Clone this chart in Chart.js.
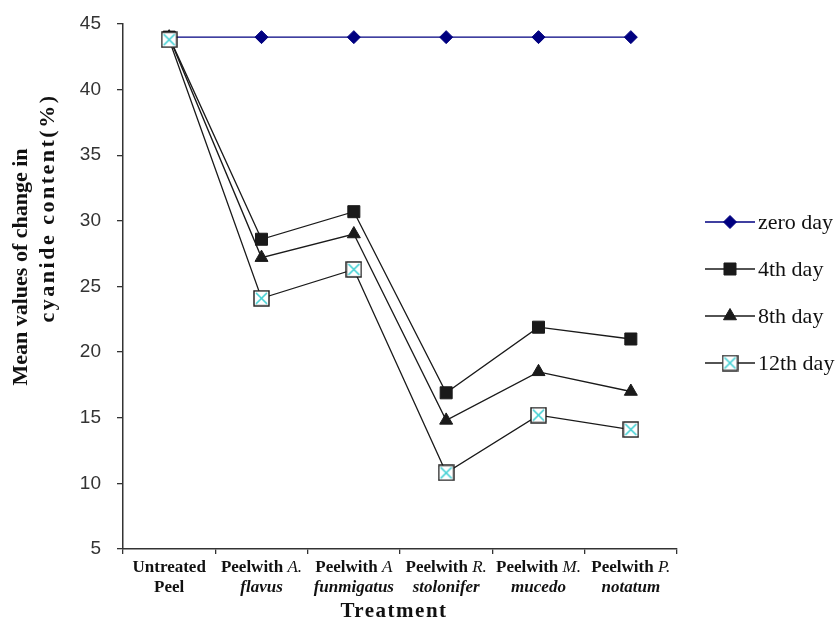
<!DOCTYPE html>
<html>
<head>
<meta charset="utf-8">
<script src="https://cdn.jsdelivr.net/npm/chart.js@4/dist/chart.umd.min.js"></script>
<style>
  html, body { margin: 0; padding: 0; background: #fff; }
  #wrap { width: 839px; height: 622px; }
</style>
</head>
<body>
<div id="wrap"><canvas id="c" width="839" height="622"></canvas></div>
<script>
// Treatments along the x axis ("Peelwith <genus> <species>")
const categories = [
  "Untreated Peel",
  "Peelwith A. flavus",
  "Peelwith A funmigatus",
  "Peelwith R. stolonifer",
  "Peelwith M. mucedo",
  "Peelwith P. notatum"
];

// Storage times (series)
const seriesNames = ["zero day", "4th day", "8th day", "12th day"];

// Mean change in cyanide content (%)
const zeroDay = [44, 44, 44, 44, 44, 44];
const day4    = [44, 28.6, 30.7, 16.9, 21.9, 21.0];
const day8    = [44, 27.2, 29.0, 14.8, 18.5, 17.0];
const day12   = [43.8, 24.1, 26.3, 10.8, 15.2, 14.1];

// Value axis
const yMin = 5, yMax = 45, yStep = 5;

const yTitleLines = ["Mean values of change in", "cyanide content(%)"];
const xTitle = "Treatment";

const SERIF = '"Liberation Serif", "Times New Roman", serif';

// Open square with a cyan cross, used for the 12th day series
function makeCrossBox(size) {
  const c = document.createElement('canvas');
  c.width = size; c.height = size;
  const g = c.getContext('2d');
  g.fillStyle = '#ffffff';
  g.fillRect(1, 1, size - 2, size - 2);
  g.strokeStyle = '#3fd0d4';
  g.lineWidth = 1.6;
  g.beginPath();
  g.moveTo(3, 3); g.lineTo(size - 3, size - 3);
  g.moveTo(size - 3, 3); g.lineTo(3, size - 3);
  g.stroke();
  g.strokeStyle = '#1a1a1a';
  g.lineWidth = 1.4;
  g.strokeRect(1, 1, size - 2, size - 2);
  return c;
}
const crossBox = makeCrossBox(17);

const styles = [
  { color: '#000080', pointStyle: 'rectRot',  radius: 6.5 },
  { color: '#1a1a1a', pointStyle: 'rect',     radius: 8.5 },
  { color: '#1a1a1a', pointStyle: 'triangle', radius: 7.5 },
  { color: '#1a1a1a', pointStyle: crossBox,   radius: 8.5 }
];
const seriesValues = [zeroDay, day4, day8, day12];

const datasets = seriesValues.map((vals, i) => ({
  label: seriesNames[i],
  data: vals,
  borderColor: styles[i].color,
  backgroundColor: styles[i].color,
  pointBackgroundColor: styles[i].color,
  pointBorderColor: styles[i].color,
  pointBorderWidth: 1,
  pointStyle: styles[i].pointStyle,
  pointRadius: styles[i].radius,
  pointHoverRadius: styles[i].radius,
  borderWidth: 1.3,
  tension: 0,
  fill: false,
  order: seriesValues.length - 1 - i
}));

// Category labels: upright bold "Peelwith", italic genus, bold italic species
const LBL = '17px ' + SERIF;
function labelLines(text) {
  const w = text.split(' ');
  if (w.length === 2) {
    return [[{ t: w[0], f: 'bold ' + LBL }], [{ t: w[1], f: 'bold ' + LBL }]];
  }
  return [
    [{ t: w[0] + ' ', f: 'bold ' + LBL }, { t: w[1], f: 'italic ' + LBL }],
    [{ t: w[2], f: 'italic bold ' + LBL }]
  ];
}

function drawRuns(ctx, runs, cx, y) {
  let total = 0;
  runs.forEach(r => { ctx.font = r.f; r.w = ctx.measureText(r.t).width; total += r.w; });
  let x = cx - total / 2;
  runs.forEach(r => { ctx.font = r.f; ctx.fillText(r.t, x, y); x += r.w; });
}

function setSpacing(ctx, v) { if ('letterSpacing' in ctx) ctx.letterSpacing = v; }

const decorations = {
  id: 'decorations',
  afterDraw(chart) {
    const ctx = chart.ctx;
    const xs = chart.scales.x;
    ctx.save();
    ctx.fillStyle = '#111';
    ctx.textBaseline = 'middle';
    ctx.textAlign = 'left';

    // category labels
    categories.forEach((cat, i) => {
      const cx = xs.getPixelForValue(i);
      const lines = labelLines(cat);
      drawRuns(ctx, lines[0], cx, 568);
      drawRuns(ctx, lines[1], cx, 588);
    });

    // x axis title
    ctx.font = 'bold 21px ' + SERIF;
    ctx.textAlign = 'center';
    setSpacing(ctx, '1.5px');
    ctx.fillText(xTitle, 394, 612);
    setSpacing(ctx, '0px');

    // y axis title (two lines)
    ctx.save();
    ctx.translate(21, 267);
    ctx.rotate(-Math.PI / 2);
    ctx.font = 'bold 22px ' + SERIF;
    ctx.fillText(yTitleLines[0], 0, 0);
    ctx.restore();
    ctx.save();
    ctx.translate(48, 208);
    ctx.rotate(-Math.PI / 2);
    ctx.font = 'bold 22px ' + SERIF;
    setSpacing(ctx, '2.5px');
    ctx.fillText(yTitleLines[1], 0, 0);
    setSpacing(ctx, '0px');
    ctx.restore();

    // legend
    const legendY = [222, 269, 316, 363];
    chart.data.datasets.forEach((ds, i) => {
      const y = legendY[i];
      ctx.strokeStyle = ds.borderColor;
      ctx.lineWidth = 1.3;
      ctx.beginPath();
      ctx.moveTo(705, y); ctx.lineTo(755, y);
      ctx.stroke();
      ctx.fillStyle = ds.pointBackgroundColor;
      ctx.strokeStyle = ds.pointBorderColor;
      ctx.lineWidth = 1;
      Chart.helpers.drawPoint(ctx, {
        pointStyle: ds.pointStyle, radius: ds.pointRadius, rotation: 0, borderWidth: 1
      }, 730, y);
      ctx.fillStyle = '#111';
      ctx.textAlign = 'left';
      ctx.font = '22px ' + SERIF;
      ctx.fillText(ds.label, 758, y + 1);
    });
    ctx.restore();
  }
};

new Chart(document.getElementById('c'), {
  type: 'line',
  data: { labels: categories, datasets },
  plugins: [decorations],
  options: {
    responsive: false,
    animation: false,
    devicePixelRatio: 1,
    layout: { padding: { left: 0, right: 162, top: 24, bottom: 0 } },
    plugins: { legend: { display: false }, tooltip: { enabled: false } },
    scales: {
      x: {
        type: 'category',
        offset: true,
        grid: { display: true, offset: true, drawOnChartArea: false, drawTicks: true, tickLength: 5, color: '#333', lineWidth: 1.3 },
        border: { display: true, color: '#333', width: 1.5 },
        ticks: { display: false },
        afterFit(s) { s.height = 73; }
      },
      y: {
        min: yMin, max: yMax,
        grid: { display: true, drawOnChartArea: false, drawTicks: true, tickLength: 6, color: '#333', lineWidth: 1.3 },
        border: { display: true, color: '#333', width: 1.5 },
        ticks: {
          stepSize: yStep,
          padding: 16,
          color: '#333',
          font: { family: '"Liberation Sans", Arial, sans-serif', size: 19 }
        },
        afterFit(s) { s.width = 123; s.paddingTop = 0; s.paddingBottom = 0; }
      }
    }
  }
});
</script>
</body>
</html>
